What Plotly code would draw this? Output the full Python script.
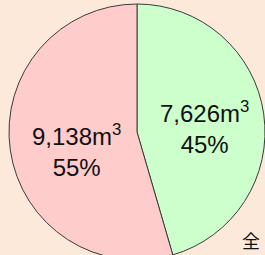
import plotly.graph_objects as go

labels = ["A", "B"]
values = [7626, 9138]
percents = ["45%", "55%"]
volumes = ["7,626", "9,138"]
colors = ["#CCFFCC", "#FFCCCC"]
# label centres in pixels (x from left, y from top)
label_pos = [(204, 127), (76, 150)]

W, H = 265, 264
texts = [f"{v}m<sup>3</sup><br>{p}" for v, p in zip(volumes, percents)]

fig = go.Figure(go.Pie(
    labels=labels,
    values=values,
    textinfo="none",
    sort=False,
    direction="clockwise",
    rotation=0,
    marker=dict(colors=colors, line=dict(color="#3A3A3A", width=1)),
    domain=dict(x=[9/W, 1], y=[0, 1]),
    showlegend=False,
    hoverinfo="skip",
))

for t, (px, py) in zip(texts, label_pos):
    fig.add_annotation(
        text=t, x=px / W, y=1 - py / H, xref="paper", yref="paper",
        showarrow=False, xanchor="center", yanchor="middle", align="center",
        font=dict(family="Liberation Sans, Arial", size=24, color="#111111"),
    )

fig.add_annotation(
    text="全", x=251 / W, y=1 - 240 / H, xref="paper", yref="paper",
    showarrow=False, xanchor="center", yanchor="middle",
    font=dict(family="Noto Sans CJK JP", size=18, color="#111111"),
)

fig.update_layout(
    width=W, height=H,
    margin=dict(l=0, r=0, t=0, b=0),
    paper_bgcolor="#FDE9DA",
    plot_bgcolor="#FDE9DA",
)

fig.write_html(
    "out.html",
    config={"displayModeBar": False},
    post_script="document.body.style.margin='0';document.body.style.overflow='hidden';document.body.style.background='#FDE9DA';",
)
